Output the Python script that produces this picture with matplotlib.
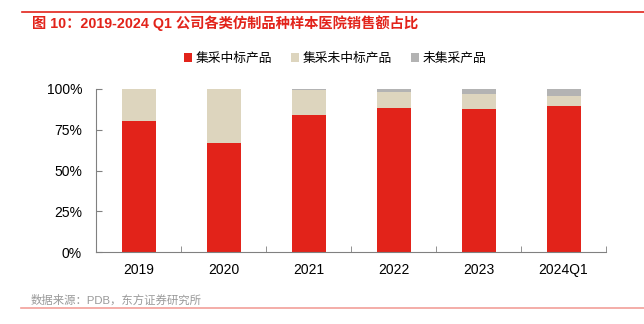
import matplotlib.pyplot as plt
from matplotlib.lines import Line2D

plt.rcParams['font.family'] = ['Liberation Sans', 'Noto Sans CJK SC', 'DejaVu Sans']

categorias = ["2019", "2020", "2021", "2022", "2023", "2024Q1"]
zhongbiao = [80.4, 66.7, 84.3, 88.5, 87.8, 89.6]
weizhongbiao = [19.6, 33.3, 14.9, 9.8, 9.1, 6.1]
weijicai = [0.0, 0.0, 0.8, 1.7, 3.1, 4.3]

series = ["集采中标产品", "集采未中标产品", "未集采产品"]
cores = ["#E2231A", "#DDD5BE", "#B3B3B3"]

fig = plt.figure(figsize=(6.44, 3.24), dpi=100)
ax = fig.add_axes([96 / 644, 1 - 252 / 324, 510 / 644, 163 / 324])

x = list(range(len(categorias)))
base = [0.0] * len(categorias)
for nome, valores, cor in zip(series, [zhongbiao, weizhongbiao, weijicai], cores):
    ax.bar(x, valores, width=0.4, bottom=base, color=cor, label=nome)
    base = [b + v for b, v in zip(base, valores)]

ax.set_xlim(-0.5, len(categorias) - 0.5)
ax.set_ylim(0, 100)
ax.set_yticks([0, 25, 50, 75, 100])
ax.set_yticklabels(["0%", "25%", "50%", "75%", "100%"], fontsize=10)
ax.set_xticks(x)
ax.set_xticklabels(categorias, fontsize=10)
ax.tick_params(axis="x", length=0, pad=8)
ax.set_xticks([i - 0.5 for i in range(len(categorias) + 1)], minor=True)
ax.tick_params(axis="x", which="minor", direction="in", length=4, color="#808080")
ax.tick_params(axis="y", direction="in", length=4, color="#808080", pad=10)

for lado in ["top", "right"]:
    ax.spines[lado].set_visible(False)
for lado in ["left", "bottom"]:
    ax.spines[lado].set_color("#808080")
    ax.spines[lado].set_linewidth(0.8)

ax.legend(loc="center", bbox_to_anchor=(0.469, 1.184), ncol=3, frameon=False,
          fontsize=9.2, handlelength=0.6, handleheight=0.6, handletextpad=0.3,
          columnspacing=1.5)

# titulo e linhas decorativas
fig.add_artist(Line2D([22 / 644, 1], [1 - 12 / 324, 1 - 12 / 324], color="#E2231A", lw=1.2))
fig.text(32 / 644, 1 - 23 / 324, "图 10：2019-2024 Q1 公司各类仿制品种样本医院销售额占比",
         color="#E2231A", fontsize=10.3, fontweight="bold", va="center", ha="left")
fig.add_artist(Line2D([21 / 644, 1], [1 - 308 / 324, 1 - 308 / 324], color="#F2A09A", lw=1.2))
fig.text(31 / 644, 1 - 300 / 324, "数据来源：PDB，东方证券研究所", color="#999999",
         fontsize=8.2, va="center", ha="left")

fig.savefig("out.png", dpi=100)
